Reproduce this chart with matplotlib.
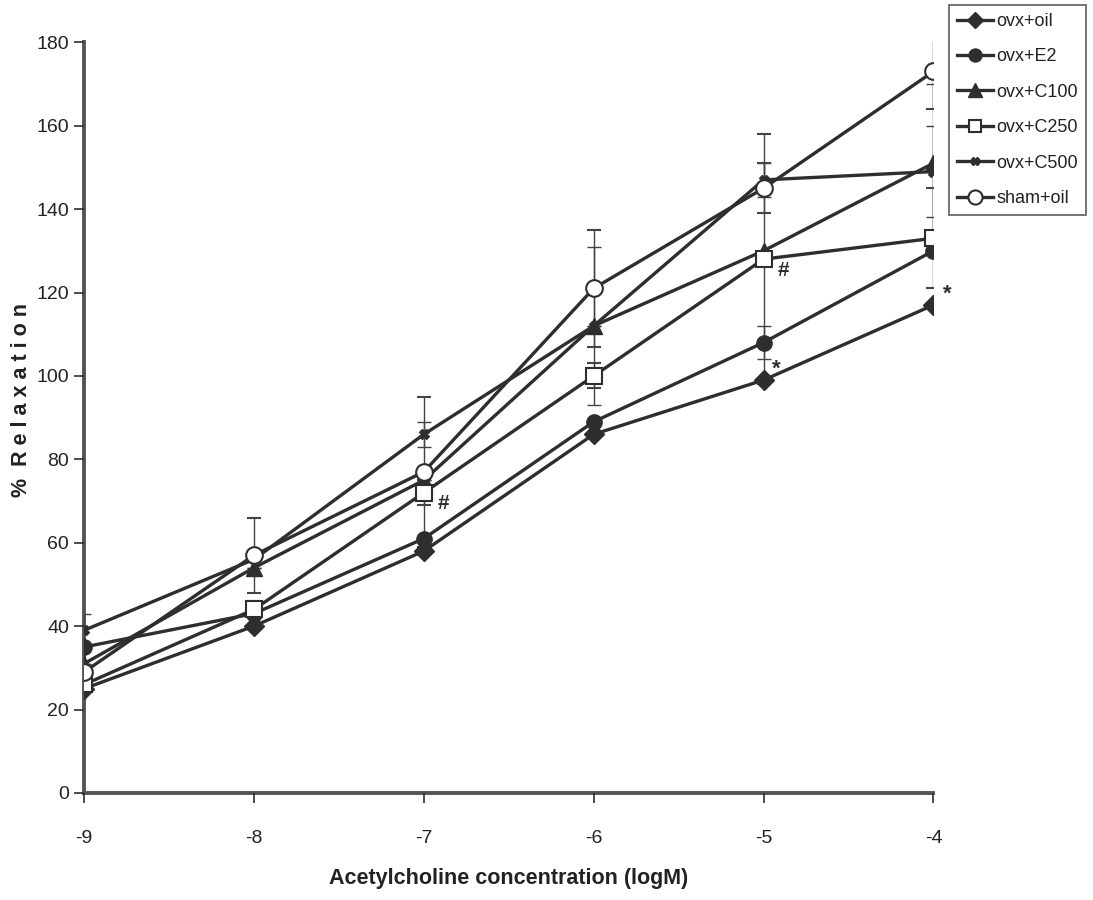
import matplotlib
matplotlib.use("Agg")
import matplotlib.pyplot as plt
from matplotlib.lines import Line2D

# ---- data ----
conc = [-9, -8, -7, -6, -5, -4]
x_ticklabels = ["-9", "-8", "-7", "-6", "-5", "-4"]
y_ticks = [0, 20, 40, 60, 80, 100, 120, 140, 160, 180]

ovx_oil = [25, 40, 58, 86, 99, 117]
ovx_e2 = [35, 43, 61, 89, 108, 130]
ovx_c100 = [31, 54, 75, 112, 130, 151]
ovx_c250 = [26, 44, 72, 100, 128, 133]
ovx_c500 = [39, 56, 86, 112, 147, 149]
sham_oil = [29, 57, 77, 121, 145, 173]

err_oil = [0, 0, 0, 0, 0, 0]
err_e2 = [0, 0, 0, 0, 4, 0]
err_c100 = [0, 0, 0, 19, 0, 19]
err_c250 = [0, 2, 3, 3, 30, 12]
err_c500 = [4, 0, 3, 0, 4, 11]
err_sham = [0, 9, 18, 14, 6, 9]

labels = ["ovx+oil", "ovx+E2", "ovx+C100", "ovx+C250", "ovx+C500", "sham+oil"]

# ---- style ----
dark = "#2e2e2e"
plt.rcParams["font.family"] = ["Liberation Sans", "DejaVu Sans"]

fig = plt.figure(figsize=(10.93, 9.0), dpi=100)
ax = fig.add_axes([0.077, 0.119, 0.777, 0.834])

series = [
    (ovx_oil, err_oil, dict(marker="D", markersize=10, mfc=dark, mec=dark)),
    (ovx_e2, err_e2, dict(marker="o", markersize=11, mfc=dark, mec=dark)),
    (ovx_c100, err_c100, dict(marker="^", markersize=12, mfc=dark, mec=dark)),
    (ovx_c250, err_c250, dict(marker="s", markersize=11, mfc="white", mec=dark, mew=1.5)),
    (ovx_c500, err_c500, dict(marker="X", markersize=7, mfc=dark, mec=dark)),
    (sham_oil, err_sham, dict(marker="o", markersize=12, mfc="white", mec=dark, mew=1.5)),
]

handles = []
for (vals, errs, mk), lab in zip(series, labels):
    ax.errorbar(conc, vals, yerr=errs, color=dark, lw=2.4, elinewidth=1.0,
                ecolor="#444444", capsize=5, capthick=1.0,
                zorder=3, **mk)
    hmk = dict(mk)
    hmk["markersize"] = mk["markersize"] * 0.85
    handles.append(Line2D([0], [0], color=dark, lw=2.4, label=lab, **hmk))

# significance marks
ax.annotate("#", (conc[2], ovx_c250[2]), xytext=(10, -12), textcoords="offset points",
            fontsize=15, fontweight="bold", color=dark)
ax.annotate("#", (conc[4], ovx_c250[4]), xytext=(10, -12), textcoords="offset points",
            fontsize=15, fontweight="bold", color=dark)
ax.annotate("*", (conc[4], ovx_oil[4]), xytext=(6, 4), textcoords="offset points",
            fontsize=16, fontweight="bold", color=dark)
ax.annotate("*", (conc[5], ovx_oil[5]), xytext=(7, 4), textcoords="offset points",
            fontsize=16, fontweight="bold", color=dark)

ax.set_xlim(-9, -4)
ax.set_ylim(0, 180)
ax.set_xticks(conc)
ax.set_xticklabels(x_ticklabels, fontsize=14)
ax.set_yticks(y_ticks)
ax.set_yticklabels([str(v) for v in y_ticks], fontsize=14)
ax.tick_params(axis="both", direction="out", length=7, width=1.2, color=dark, labelcolor="#222222")
ax.tick_params(axis="x", pad=20)
ax.tick_params(axis="y", pad=4)

for s in ["top", "right"]:
    ax.spines[s].set_visible(False)
for s in ["left", "bottom"]:
    ax.spines[s].set_linewidth(2.8)
    ax.spines[s].set_color("#555555")
    ax.spines[s].set_zorder(1)

ax.set_xlabel("Acetylcholine concentration (logM)", fontsize=15.5,
              fontweight="bold", labelpad=15, color="#222222")
ax.set_ylabel("%  R e l a x a t i o n", fontsize=15.5, fontweight="bold",
              color="#222222")
ax.yaxis.set_label_coords(-0.062, 0.523)

leg = ax.legend(handles=handles, loc="upper left", bbox_to_anchor=(1.018, 1.05),
                frameon=True, fancybox=False, edgecolor="#333333",
                prop={"size": 13}, handlelength=2.0,
                handletextpad=0.2, labelspacing=1.02, borderpad=0.45,
                borderaxespad=0.0)
leg.get_frame().set_linewidth(1.2)
for t in leg.get_texts():
    t.set_color("#222222")

fig.savefig("out.png", dpi=100, facecolor="white")
